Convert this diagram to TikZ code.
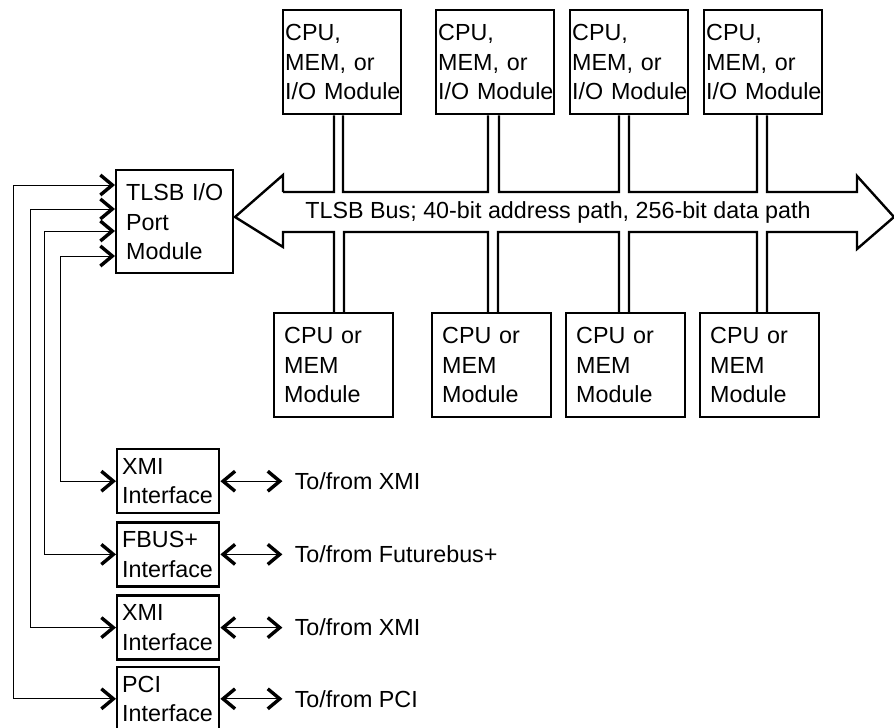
\documentclass[tikz,border=0pt]{standalone}
\usepackage{fontspec}
\setmainfont{Liberation Sans}
\usetikzlibrary{arrows.meta,positioning}
\hyphenpenalty=10000
\exhyphenpenalty=10000

\begin{document}
\begin{tikzpicture}[x=0.5pt,y=-0.5pt,font=\fontsize{11.65}{14.7}\selectfont,
	>={Straight Barb[length=6pt,width=10pt,line width=1.7pt]},
	box/.style={draw,line width=1.2pt,align=left,inner ysep=0pt},
	topmod/.style={box,anchor=north west,text width=57pt,inner xsep=1pt,minimum height=52pt},
	botmod/.style={box,anchor=north west,text width=49.5pt,inner xsep=5pt,minimum height=52pt},
	iface/.style={box,text width=46pt,inner xsep=2.5pt,minimum height=32pt},
	bus/.style={line width=1.2pt},
	link/.style={line width=0.5pt}]
	\useasboundingbox (0,0) rectangle (894,728);

	\node (t1) [topmod] at (282,9) {CPU,\\MEM, or\\\mbox{I/O Module}};
	\node (t2) [topmod] at (435,9) {CPU,\\MEM, or\\\mbox{I/O Module}};
	\node (t3) [topmod] at (569,9) {CPU,\\MEM, or\\\mbox{I/O Module}};
	\node (t4) [topmod] at (703,9) {CPU,\\MEM, or\\\mbox{I/O Module}};
	\node (b1) [botmod] at (273,312) {CPU or\\MEM\\Module};
	\node (b2) [botmod] at (431,312) {CPU or\\MEM\\Module};
	\node (b3) [botmod] at (565,312) {CPU or\\MEM\\Module};
	\node (b4) [botmod] at (699,312) {CPU or\\MEM\\Module};
	\node (port) [box,anchor=north west,text width=48.5pt,inner xsep=5pt,minimum height=51.5pt] at (115,169) {\mbox{TLSB I/O}\\Port\\Module};
	\node (busl) at (558,212) {TLSB Bus; 40-bit address path, 256-bit data path};

	\node (x1) [iface,anchor=north west] at (116,448) {XMI\\Interface};
	\node (f1) [iface,below=3.4pt of x1] {FBUS+\\Interface};
	\node (x2) [iface,below=3.4pt of f1] {XMI\\Interface};
	\node (p1) [iface,below=2.4pt of x2] {PCI\\Interface};
	\node (to1) [right=37pt of x1,inner sep=0pt] {To/from XMI};
	\node (to2) [right=37pt of f1,inner sep=0pt] {To/from Futurebus+};
	\node (to3) [right=37pt of x2,inner sep=0pt] {To/from XMI};
	\node (to4) [right=37pt of p1,inner sep=0pt] {To/from PCI};

	\draw[bus] (283,192) -- (283,175) -- (235,217) -- (283,247) -- (283,232) -- (334,232) -- (334,232 |- b1.north)
		(344,232 |- b1.north) -- (344,232) -- (488,232) -- (488,232 |- b2.north)
		(498,232 |- b2.north) -- (498,232) -- (619,232) -- (619,232 |- b3.north)
		(629,232 |- b3.north) -- (629,232) -- (757,232) -- (757,232 |- b4.north)
		(767,232 |- b4.north) -- (767,232) -- (857,232) -- (857,249) -- (894,217) -- (857,176) -- (857,192) -- (767,192) -- (767,192 |- t4.south)
		(757,192 |- t4.south) -- (757,192) -- (629,192) -- (629,192 |- t3.south)
		(619,192 |- t3.south) -- (619,192) -- (499,192) -- (499,192 |- t2.south)
		(488,192 |- t2.south) -- (488,192) -- (343,192) -- (343,192 |- t1.south)
		(334,192 |- t1.south) -- (334,192) -- (283,192);

	\draw[link,<->] (p1.west) -| (13,185) -- (port.west |- 13,185);
	\draw[link,<->] (x2.west) -| (30,209) -- (port.west |- 30,209);
	\draw[link,<->] (f1.west) -| (44,231) -- (port.west |- 44,231);
	\draw[link,<->] (x1.west) -| (60,256) -- (port.west |- 60,256);
	\draw[link,<->,shorten >=6pt] (x1.east) -- (to1);
	\draw[link,<->,shorten >=6pt] (f1.east) -- (to2);
	\draw[link,<->,shorten >=6pt] (x2.east) -- (to3);
	\draw[link,<->,shorten >=6pt] (p1.east) -- (to4);
\end{tikzpicture}
\end{document}
